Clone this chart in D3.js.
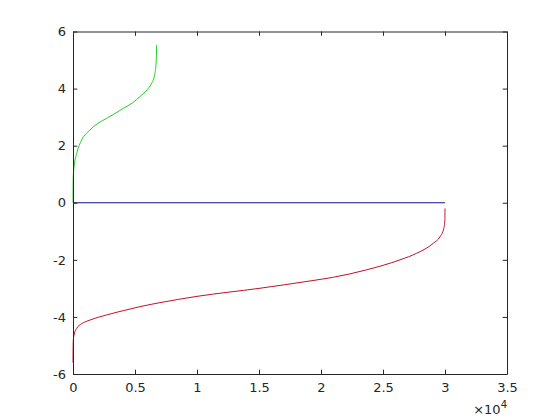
<!DOCTYPE html>
<html><head><meta charset="utf-8">
<script src="https://cdn.jsdelivr.net/npm/d3@7"></script>
<style>body{margin:0;background:#fff}svg{display:block}text{font-family:"DejaVu Sans",sans-serif;fill:#262626}</style>
</head><body><svg id="c" width="560" height="420"></svg>
<script>
const xTicks = [0, 5000, 10000, 15000, 20000, 25000, 30000, 35000];
const xTickLabels = ["0", "0.5", "1", "1.5", "2", "2.5", "3", "3.5"];
const yTicks = [-6, -4, -2, 0, 2, 4, 6];
const yTickLabels = ["-6", "-4", "-2", "0", "2", "4", "6"];

const greenX = [0, 5, 25, 100, 300, 700, 1370, 2000, 2720, 3400, 4060, 4800, 5400, 6000, 6300, 6610, 6700, 6730, 6750];
const greenY = [0.0, 0.5, 0.95, 1.3, 1.73, 2.2, 2.55, 2.78, 2.96, 3.13, 3.31, 3.5, 3.72, 3.97, 4.15, 4.54, 4.9, 5.2, 5.53];

const blueX = [0, 30000];
const blueY = [0, 0];

const redX = [0, 5, 30, 100, 300, 700, 1370, 2720, 4060, 5400, 7016, 10000, 15000, 19113, 21000, 23685, 26370, 27718, 29056, 29600, 29900, 29990, 30000];
const redY = [-5.6, -5.2, -4.8, -4.6, -4.4, -4.24, -4.11, -3.93, -3.78, -3.64, -3.5, -3.28, -3.0, -2.74, -2.61, -2.35, -2.0, -1.77, -1.42, -1.19, -0.9, -0.6, -0.2];

const svg = d3.select("#c");
const L = 73, R = 507, T = 31.5, B = 374;
const x = d3.scaleLinear().domain([0, 35000]).range([L, R]);
const y = d3.scaleLinear().domain([-6, 6]).range([B, T]);
const axCol = "#262626";

const line = d3.line().x(d => x(d[0])).y(d => y(d[1])).curve(d3.curveMonotoneX);
function draw(xs, ys, col) {
  svg.append("path").datum(xs.map((v, i) => [v, ys[i]]))
    .attr("d", line).attr("fill", "none").attr("stroke", col).attr("stroke-width", 1);
}
draw(blueX, blueY, "#10108c");
draw(greenX, greenY, "#22d022");
draw(redX, redY, "#c0102a");

const fmtX = (d, i) => xTickLabels[i];
const fmtY = (d, i) => yTickLabels[i];
const gb = svg.append("g").attr("transform", `translate(0,${B})`)
  .call(d3.axisBottom(x).tickValues(xTicks).tickFormat(fmtX).tickSizeInner(-4.3).tickSizeOuter(0).tickPadding(9));
const gt = svg.append("g").attr("transform", `translate(0,${T})`)
  .call(d3.axisTop(x).tickValues(xTicks).tickFormat("").tickSizeInner(-4.3).tickSizeOuter(0));
const gl = svg.append("g").attr("transform", `translate(${L},0)`)
  .call(d3.axisLeft(y).tickValues(yTicks).tickFormat(fmtY).tickSizeInner(-4.3).tickSizeOuter(0).tickPadding(7));
const gr = svg.append("g").attr("transform", `translate(${R},0)`)
  .call(d3.axisRight(y).tickValues(yTicks).tickFormat("").tickSizeInner(-4.3).tickSizeOuter(0));
[gb, gt, gl, gr].forEach(g => {
  g.selectAll(".domain").attr("stroke", axCol);
  g.selectAll(".tick line").attr("stroke", axCol);
  g.selectAll("text").attr("font-size", 13).attr("fill", axCol).attr("font-family", "DejaVu Sans, sans-serif");
});
const ex = svg.append("text").attr("x", R).attr("y", 414).attr("text-anchor", "end").attr("font-size", 13);
ex.append("tspan").text("×10");
ex.append("tspan").attr("dy", -6).attr("font-size", 10).text("4");
</script></body></html>
